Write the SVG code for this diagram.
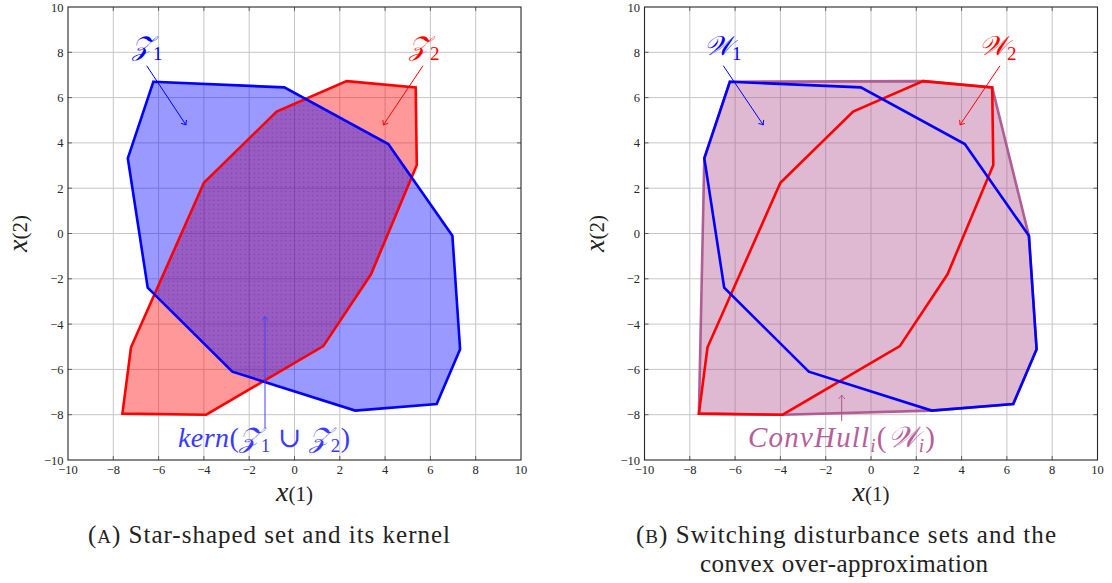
<svg xmlns="http://www.w3.org/2000/svg" xmlns:xlink="http://www.w3.org/1999/xlink" width="1112" height="583" viewBox="0 0 1112 583">
<style>
.grid{stroke:#c6c6c6;stroke-width:1;fill:none}
.frame{fill:none;stroke:#262626;stroke-width:1.1}
.tick{stroke:#444;stroke-width:0.8;fill:none}
.tl{font-family:"Liberation Serif","DejaVu Serif",serif;font-size:12.5px;fill:#262626}
.yl{text-anchor:end}
.xl{text-anchor:middle}
.math{font-family:"Liberation Serif","DejaVu Serif","DejaVu Sans",serif;font-style:italic}
.up{font-style:normal}
.cap{font-family:"Liberation Serif","DejaVu Serif",serif;font-size:25px;fill:#222;text-anchor:middle}
.redf{fill:#ff0000;fill-opacity:0.4;stroke:none}
.bluef{fill:#0000ff;fill-opacity:0.4;stroke:none}
.reds{fill:none;stroke:#ff0000;stroke-width:2.6}
.blues{fill:none;stroke:#0000ff;stroke-width:2.6}
.hullf{fill:#b04f8c;fill-opacity:0.4;stroke:#a8508c;stroke-opacity:0.9;stroke-width:2.6}
.arr{fill:none;stroke-width:1}
</style>
<defs>
<marker id="ab" markerUnits="userSpaceOnUse" markerWidth="10" markerHeight="10" refX="0" refY="0" viewBox="-6 -5 10 10" orient="auto">
<path d="M-4,-3.2 Q-1.2,-0.6 0,0 Q-1.2,0.6 -4,3.2" fill="none" stroke="#0000ff" stroke-width="0.9"/>
</marker>
<marker id="ar" markerUnits="userSpaceOnUse" markerWidth="10" markerHeight="10" refX="0" refY="0" viewBox="-6 -5 10 10" orient="auto">
<path d="M-4,-3.2 Q-1.2,-0.6 0,0 Q-1.2,0.6 -4,3.2" fill="none" stroke="#ff0000" stroke-width="0.9"/>
</marker>
<marker id="ak" markerUnits="userSpaceOnUse" markerWidth="10" markerHeight="10" refX="0" refY="0" viewBox="-6 -5 10 10" orient="auto">
<path d="M-4,-3.2 Q-1.2,-0.6 0,0 Q-1.2,0.6 -4,3.2" fill="none" stroke="#4040ff" stroke-width="0.9"/>
</marker>
<marker id="ah" markerUnits="userSpaceOnUse" markerWidth="10" markerHeight="10" refX="0" refY="0" viewBox="-6 -5 10 10" orient="auto">
<path d="M-4,-3.2 Q-1.2,-0.6 0,0 Q-1.2,0.6 -4,3.2" fill="none" stroke="#b0508f" stroke-width="0.9"/>
</marker>
<pattern id="dots" patternUnits="userSpaceOnUse" width="4.5" height="4.5">
<circle cx="2.25" cy="2.25" r="0.7" fill="#4a1f7a" fill-opacity="0.45"/>
</pattern>
<clipPath id="z2clip">
<polygon points="346.6,81.1 415.7,87.4 416.8,165.1 371,274.3 323.3,346.1 206.2,414.7 122.4,413.6 131,347.3 203.9,182.8 276.6,111.6"/>
</clipPath>
<g id="axes">
<path class="grid" d="M113.3,7V460M158.6,7V460M203.9,7V460M249.2,7V460M294.5,7V460M339.8,7V460M385.1,7V460M430.4,7V460M475.7,7V460M68,52.3H521M68,97.6H521M68,142.9H521M68,188.2H521M68,233.5H521M68,278.8H521M68,324.1H521M68,369.4H521M68,414.7H521"/>
<path class="tick" d="M113.3,460v-4M158.6,460v-4M203.9,460v-4M249.2,460v-4M294.5,460v-4M339.8,460v-4M385.1,460v-4M430.4,460v-4M475.7,460v-4M113.3,7v4M158.6,7v4M203.9,7v4M249.2,7v4M294.5,7v4M339.8,7v4M385.1,7v4M430.4,7v4M475.7,7v4M68,52.3h4M68,97.6h4M68,142.9h4M68,188.2h4M68,233.5h4M68,278.8h4M68,324.1h4M68,369.4h4M68,414.7h4M521,52.3h-4M521,97.6h-4M521,142.9h-4M521,188.2h-4M521,233.5h-4M521,278.8h-4M521,324.1h-4M521,369.4h-4M521,414.7h-4"/>
<rect class="frame" x="68" y="7" width="453" height="453"/>
<g class="tl xl">
<text x="68" y="474">−10</text><text x="113.3" y="474">−8</text><text x="158.6" y="474">−6</text><text x="203.9" y="474">−4</text><text x="249.2" y="474">−2</text><text x="294.5" y="474">0</text><text x="339.8" y="474">2</text><text x="385.1" y="474">4</text><text x="430.4" y="474">6</text><text x="475.7" y="474">8</text><text x="521" y="474">10</text>
</g>
<g class="tl yl">
<text x="63.5" y="11.5">10</text><text x="63.5" y="56.8">8</text><text x="63.5" y="102.1">6</text><text x="63.5" y="147.4">4</text><text x="63.5" y="192.7">2</text><text x="63.5" y="238">0</text><text x="63.5" y="283.3">−2</text><text x="63.5" y="328.6">−4</text><text x="63.5" y="373.9">−6</text><text x="63.5" y="419.2">−8</text><text x="63.5" y="464.5">−10</text>
</g>
<text class="math" x="294.5" y="501" text-anchor="middle" fill="#222" font-size="28">x<tspan class="up" font-size="21">(1)</tspan></text>
<text class="math" transform="translate(27,233.5) rotate(-90)" text-anchor="middle" fill="#222" font-size="28">x<tspan class="up" font-size="21">(2)</tspan></text>
</g>
</defs>

<g id="plotA">
<use xlink:href="#axes"/>
<g id="Z2-fill"><polygon class="redf" points="346.6,81.1 415.7,87.4 416.8,165.1 371,274.3 323.3,346.1 206.2,414.7 122.4,413.6 131,347.3 203.9,182.8 276.6,111.6"/></g>
<g id="Z1-fill"><polygon class="bluef" points="153.4,81.7 284.3,87.4 388.3,144 452.4,235.8 460.1,349.2 436.7,404.1 355.2,410.6 232.3,371.7 147.7,287.7 127.8,158.3"/></g>
<g id="kernel"><polygon fill="url(#dots)" clip-path="url(#z2clip)" points="153.4,81.7 284.3,87.4 388.3,144 452.4,235.8 460.1,349.2 436.7,404.1 355.2,410.6 232.3,371.7 147.7,287.7 127.8,158.3"/></g>
<g id="Z2"><polygon class="reds" points="346.6,81.1 415.7,87.4 416.8,165.1 371,274.3 323.3,346.1 206.2,414.7 122.4,413.6 131,347.3 203.9,182.8 276.6,111.6"/></g>
<g id="Z1"><polygon class="blues" points="153.4,81.7 284.3,87.4 388.3,144 452.4,235.8 460.1,349.2 436.7,404.1 355.2,410.6 232.3,371.7 147.7,287.7 127.8,158.3"/></g>
<g id="labelsA">
<text class="math" x="132" y="55" fill="#0000ff" font-size="27">𝒵<tspan class="up" font-size="19" dy="5">1</tspan></text>
<text class="math" x="409" y="55" fill="#ff0000" font-size="27">𝒵<tspan class="up" font-size="19" dy="5">2</tspan></text>
<text class="math" x="178" y="447" fill="#3a3aff" font-size="28" textLength="172" lengthAdjust="spacing">kern<tspan class="up">(</tspan>𝒵<tspan class="up" font-size="19" dy="5">1</tspan><tspan class="up" dy="-5"> ∪ </tspan>𝒵<tspan class="up" font-size="19" dy="5">2</tspan><tspan class="up" dy="-5">)</tspan></text>
</g>
<text class="cap" x="269" y="543" textLength="362" lengthAdjust="spacing">(<tspan font-size="19">A</tspan>) Star-shaped set and its kernel</text>
</g>

<g id="plotB">
<use xlink:href="#axes" x="576.5"/>
<g id="hull"><polygon class="hullf" points="729.9,81.7 923.1,81.1 992.2,87.4 1028.9,235.8 1036.6,349.2 1013.2,404.1 931.7,410.6 782.7,414.7 698.9,413.6 704.3,158.3"/></g>
<g id="W2"><polygon class="reds" points="923.1,81.1 992.2,87.4 993.3,165.1 947.5,274.3 899.8,346.1 782.7,414.7 698.9,413.6 707.5,347.3 780.4,182.8 853.1,111.6"/></g>
<g id="W1"><polygon class="blues" points="729.9,81.7 860.8,87.4 964.8,144 1028.9,235.8 1036.6,349.2 1013.2,404.1 931.7,410.6 808.8,371.7 724.2,287.7 704.3,158.3"/></g>
<g id="labelsB">
<text class="math" x="704" y="55" fill="#0000ff" font-size="27">𝒲<tspan class="up" font-size="19" dy="5">1</tspan></text>
<text class="math" x="979" y="55" fill="#ff0000" font-size="27">𝒲<tspan class="up" font-size="19" dy="5">2</tspan></text>
<text class="math" x="748" y="447" fill="#b5609a" font-size="29" textLength="187" lengthAdjust="spacing">ConvHull<tspan font-size="19" dy="5">i</tspan><tspan class="up" dy="-5">(</tspan>𝒲<tspan font-size="19" dy="5">i</tspan><tspan class="up" dy="-5">)</tspan></text>
</g>
<text class="cap" x="846" y="543" textLength="420" lengthAdjust="spacing">(<tspan font-size="19">B</tspan>) Switching disturbance sets and the</text>
<text class="cap" x="844" y="572" textLength="288" lengthAdjust="spacing">convex over-approximation</text>
</g>

<g id="connectors">
<line class="arr" x1="146.7" y1="65.7" x2="186" y2="125" stroke="#0000ff" marker-end="url(#ab)"/>
<line class="arr" x1="423" y1="65.7" x2="383.3" y2="125" stroke="#ff0000" marker-end="url(#ar)"/>
<line class="arr" x1="265" y1="428" x2="265" y2="316.5" stroke="#4040ff" marker-end="url(#ak)"/>
<line class="arr" x1="723.3" y1="65.7" x2="763.3" y2="125" stroke="#0000ff" marker-end="url(#ab)"/>
<line class="arr" x1="1000" y1="65.7" x2="960" y2="125" stroke="#ff0000" marker-end="url(#ar)"/>
<line class="arr" x1="841.7" y1="421" x2="841.7" y2="395" stroke="#b0508f" marker-end="url(#ah)"/>
</g>
</svg>
